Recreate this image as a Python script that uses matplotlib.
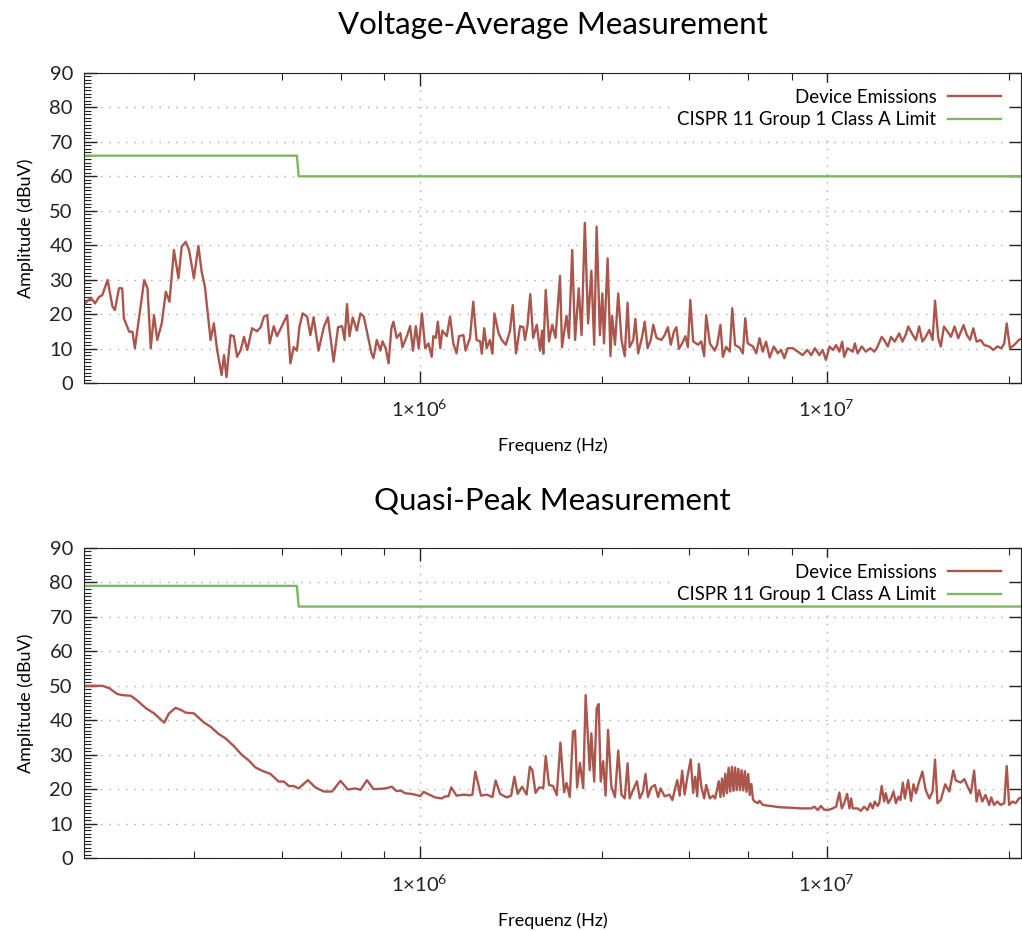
import numpy as np
import matplotlib
matplotlib.use('Agg')
import matplotlib.pyplot as plt
from matplotlib.ticker import FixedLocator, FixedFormatter, MultipleLocator, NullFormatter

plt.rcParams['font.family'] = ['Lato', 'DejaVu Sans']
plt.rcParams['mathtext.fontset'] = 'custom'
plt.rcParams['mathtext.rm'] = 'Lato'

# --- Voltage-Average sweep (log10 of frequency in Hz, level in dBuV) ---
va_freq_log10 = [
    5.176, 5.193, 5.203, 5.213, 5.221, 5.234, 5.246, 5.252, 5.262, 5.270,
    5.274, 5.287, 5.295, 5.301, 5.324, 5.332, 5.340, 5.348, 5.356, 5.367,
    5.377, 5.386, 5.397, 5.408, 5.416, 5.426, 5.434, 5.446, 5.457, 5.465,
    5.473, 5.487, 5.495, 5.503, 5.514, 5.520, 5.526, 5.536, 5.544, 5.552,
    5.561, 5.569, 5.577, 5.589, 5.601, 5.610, 5.618, 5.626, 5.632, 5.642,
    5.650, 5.662, 5.675, 5.683, 5.691, 5.699, 5.705, 5.713, 5.724, 5.732,
    5.740, 5.752, 5.765, 5.775, 5.789, 5.800, 5.810, 5.816, 5.822, 5.828,
    5.836, 5.846, 5.855, 5.863, 5.871, 5.882, 5.887, 5.895, 5.904, 5.909,
    5.917, 5.924, 5.931, 5.936, 5.944, 5.953, 5.958, 5.969, 5.977, 5.984,
    5.991, 5.998, 6.006, 6.014, 6.022, 6.030, 6.034, 6.040, 6.045, 6.051,
    6.056, 6.067, 6.075, 6.083, 6.091, 6.097, 6.108, 6.113, 6.124, 6.132,
    6.140, 6.149, 6.153, 6.159, 6.165, 6.173, 6.179, 6.184, 6.194, 6.202,
    6.212, 6.222, 6.229, 6.237, 6.247, 6.255, 6.259, 6.265, 6.272, 6.279,
    6.288, 6.296, 6.301, 6.304, 6.310, 6.318, 6.326, 6.334, 6.345, 6.350,
    6.361, 6.367, 6.375, 6.382, 6.391, 6.398, 6.406, 6.414, 6.422, 6.429,
    6.435, 6.443, 6.449, 6.453, 6.462, 6.469, 6.473, 6.480, 6.488, 6.496,
    6.504, 6.511, 6.516, 6.525, 6.530, 6.537, 6.547, 6.553, 6.560, 6.568,
    6.574, 6.582, 6.594, 6.602, 6.610, 6.617, 6.625, 6.631, 6.637, 6.645,
    6.653, 6.659, 6.665, 6.672, 6.684, 6.692, 6.699, 6.704, 6.713, 6.725,
    6.731, 6.739, 6.745, 6.753, 6.762, 6.768, 6.775, 6.786, 6.794, 6.800,
    6.806, 6.819, 6.827, 6.835, 6.843, 6.851, 6.860, 6.870, 6.880, 6.888,
    6.896, 6.904, 6.917, 6.929, 6.941, 6.952, 6.962, 6.971, 6.982, 6.990,
    6.998, 7.007, 7.015, 7.023, 7.031, 7.038, 7.043, 7.051, 7.064, 7.069,
    7.076, 7.086, 7.096, 7.107, 7.117, 7.125, 7.135, 7.141, 7.150, 7.158,
    7.167, 7.178, 7.186, 7.194, 7.200, 7.211, 7.219, 7.227, 7.235, 7.243,
    7.252, 7.260, 7.266, 7.274, 7.280, 7.288, 7.297, 7.305, 7.314, 7.323,
    7.336, 7.344, 7.352, 7.360, 7.368, 7.378, 7.387, 7.399, 7.409, 7.419,
    7.429, 7.436, 7.442, 7.450, 7.460, 7.472, 7.478,
]
va_level = [
    22.8, 24.8, 23.1, 25.0, 25.5, 29.9, 22.2, 21.2, 27.5, 27.5,
    18.8, 14.9, 14.9, 10.1, 29.9, 27.5, 10.1, 19.7, 12.5, 17.3,
    26.5, 23.6, 38.6, 30.4, 39.6, 41.0, 38.6, 30.4, 39.8, 32.3,
    28.0, 12.5, 17.3, 9.6, 2.3, 8.1, 1.7, 13.9, 13.6, 7.6,
    9.6, 13.4, 9.6, 15.9, 15.0, 16.2, 19.3, 19.7, 11.5, 16.5,
    13.6, 16.5, 19.7, 5.7, 10.4, 9.4, 16.2, 20.2, 19.3, 13.9,
    19.1, 9.4, 16.2, 19.1, 6.2, 16.2, 16.5, 12.5, 22.9, 13.6,
    19.0, 15.2, 20.2, 19.3, 14.9, 8.6, 7.2, 12.5, 9.4, 12.1,
    10.1, 5.7, 15.9, 17.8, 13.1, 14.5, 10.4, 13.6, 16.5, 9.4,
    16.5, 10.1, 20.2, 10.1, 11.5, 7.6, 13.6, 13.1, 17.8, 10.1,
    15.2, 13.6, 19.3, 11.5, 8.6, 13.6, 13.9, 9.4, 13.1, 23.6,
    12.5, 12.1, 8.5, 15.9, 10.1, 12.5, 8.5, 20.2, 14.5, 12.5,
    11.1, 15.0, 22.6, 8.6, 16.5, 16.2, 12.5, 16.5, 25.8, 13.1,
    16.9, 9.4, 15.2, 8.5, 27.0, 12.1, 16.9, 13.1, 31.1, 10.4,
    19.5, 13.1, 38.6, 12.5, 27.5, 13.9, 46.5, 17.3, 32.6, 11.1,
    45.4, 13.9, 26.0, 11.5, 36.2, 7.8, 19.5, 11.1, 26.0, 12.5,
    7.8, 23.3, 10.4, 12.5, 18.6, 8.6, 13.6, 17.8, 10.1, 12.5,
    16.9, 13.1, 12.5, 13.9, 16.2, 11.1, 15.0, 16.2, 9.9, 11.5,
    13.6, 10.4, 24.1, 12.1, 11.1, 12.1, 7.8, 19.7, 11.5, 9.4,
    11.1, 16.9, 7.6, 10.5, 9.1, 21.7, 11.0, 10.3, 8.6, 18.8,
    11.5, 10.6, 8.6, 13.0, 9.1, 12.0, 7.4, 10.6, 8.6, 9.6,
    7.2, 10.1, 10.1, 9.1, 8.1, 9.6, 8.1, 10.1, 8.1, 9.6,
    6.7, 10.6, 9.6, 11.0, 9.1, 12.0, 7.6, 10.1, 9.1, 11.5,
    8.6, 10.6, 9.1, 10.1, 9.1, 10.6, 13.4, 12.5, 10.6, 13.4,
    12.0, 14.4, 12.0, 14.0, 16.4, 14.0, 12.5, 16.4, 12.0, 13.4,
    15.4, 12.5, 23.9, 13.0, 10.6, 16.4, 14.9, 13.4, 16.4, 13.0,
    16.8, 14.0, 12.5, 15.9, 12.0, 12.5, 11.0, 10.6, 9.6, 10.6,
    10.1, 11.5, 17.3, 10.1, 11.0, 12.5, 12.8,
]

# --- Quasi-Peak sweep ---
qp_freq_log10 = [
    5.176, 5.221, 5.238, 5.258, 5.270, 5.291, 5.307, 5.328, 5.348, 5.373,
    5.385, 5.401, 5.414, 5.426, 5.446, 5.471, 5.487, 5.507, 5.524, 5.544,
    5.564, 5.581, 5.597, 5.614, 5.634, 5.654, 5.667, 5.679, 5.691, 5.703,
    5.726, 5.744, 5.765, 5.785, 5.806, 5.824, 5.842, 5.855, 5.871, 5.887,
    5.908, 5.920, 5.932, 5.944, 5.953, 5.965, 5.981, 6.002, 6.010, 6.022,
    6.038, 6.055, 6.063, 6.071, 6.078, 6.091, 6.108, 6.124, 6.130, 6.137,
    6.151, 6.165, 6.179, 6.187, 6.198, 6.214, 6.225, 6.233, 6.241, 6.252,
    6.263, 6.271, 6.277, 6.285, 6.294, 6.304, 6.310, 6.318, 6.328, 6.337,
    6.346, 6.355, 6.361, 6.369, 6.377, 6.382, 6.387, 6.394, 6.402, 6.408,
    6.418, 6.422, 6.429, 6.435, 6.440, 6.445, 6.451, 6.457, 6.463, 6.471,
    6.480, 6.488, 6.496, 6.504, 6.511, 6.516, 6.525, 6.534, 6.541, 6.549,
    6.555, 6.561, 6.569, 6.578, 6.586, 6.592, 6.602, 6.614, 6.621, 6.627,
    6.633, 6.639, 6.645, 6.651, 6.658, 6.666, 6.672, 6.677, 6.682, 6.686,
    6.692, 6.699, 6.704, 6.713, 6.721, 6.726, 6.735, 6.739, 6.743, 6.747,
    6.751, 6.755, 6.759, 6.763, 6.767, 6.771, 6.775, 6.779, 6.783, 6.787,
    6.791, 6.795, 6.799, 6.803, 6.807, 6.811, 6.815, 6.819, 6.823, 6.831,
    6.835, 6.843, 6.863, 6.888, 6.912, 6.937, 6.962, 6.970, 6.978, 6.986,
    6.993, 7.002, 7.015, 7.023, 7.031, 7.037, 7.043, 7.050, 7.056, 7.060,
    7.064, 7.076, 7.084, 7.092, 7.100, 7.107, 7.113, 7.118, 7.125, 7.129,
    7.135, 7.141, 7.145, 7.151, 7.158, 7.164, 7.170, 7.176, 7.181, 7.187,
    7.192, 7.200, 7.207, 7.213, 7.219, 7.225, 7.235, 7.243, 7.252, 7.260,
    7.266, 7.272, 7.280, 7.291, 7.301, 7.311, 7.317, 7.329, 7.338, 7.346,
    7.354, 7.362, 7.368, 7.374, 7.382, 7.390, 7.399, 7.404, 7.411, 7.419,
    7.427, 7.436, 7.442, 7.448, 7.456, 7.464, 7.472, 7.478,
]
qp_level = [
    50.0, 50.0, 49.3, 47.6, 47.3, 47.1, 45.7, 43.5, 42.0, 39.3,
    42.0, 43.6, 43.0, 42.2, 42.0, 39.3, 38.1, 36.0, 34.7, 32.5,
    29.9, 28.3, 26.3, 25.3, 24.4, 22.2, 22.2, 20.9, 20.9, 20.2,
    22.6, 20.5, 19.3, 19.3, 22.4, 19.9, 20.2, 19.8, 22.6, 20.0,
    20.1, 20.3, 20.7, 19.4, 19.6, 18.8, 18.6, 18.0, 19.2, 18.5,
    17.6, 17.3, 17.9, 17.9, 20.5, 18.1, 18.4, 18.2, 18.4, 25.1,
    18.1, 18.4, 17.7, 22.5, 18.6, 17.6, 18.1, 23.6, 18.6, 20.7,
    18.4, 26.5, 25.5, 18.9, 20.5, 20.3, 29.6, 21.2, 20.9, 18.3,
    33.5, 19.1, 21.8, 17.7, 36.7, 37.0, 20.5, 27.6, 20.3, 47.3,
    25.5, 36.2, 22.2, 43.5, 44.7, 22.2, 28.1, 18.1, 37.2, 20.8,
    17.7, 31.2, 18.4, 17.3, 27.5, 17.3, 19.9, 22.3, 17.3, 19.5,
    24.4, 17.7, 20.5, 21.2, 17.7, 20.2, 17.9, 18.4, 16.8, 19.9,
    22.6, 18.1, 25.3, 18.4, 23.6, 28.6, 18.9, 23.6, 17.9, 27.3,
    20.8, 17.3, 21.2, 17.3, 18.1, 17.3, 22.3, 17.7, 23.1, 18.0,
    24.5, 18.8, 26.2, 19.3, 26.5, 19.5, 26.3, 19.7, 25.9, 19.7,
    25.5, 19.6, 25.2, 19.2, 24.4, 18.3, 21.5, 17.0, 16.4, 15.9,
    16.6, 15.4, 15.1, 14.7, 14.6, 14.4, 14.4, 14.9, 13.9, 15.1,
    14.1, 13.9, 14.4, 14.9, 19.0, 14.4, 15.9, 18.6, 14.4, 17.3,
    14.4, 14.4, 13.7, 14.9, 13.9, 15.9, 14.4, 16.4, 15.1, 15.9,
    20.9, 16.4, 18.8, 15.9, 17.3, 19.3, 15.9, 17.8, 16.8, 21.9,
    17.3, 22.6, 16.6, 21.4, 18.8, 21.4, 25.1, 19.7, 17.3, 19.3,
    28.6, 15.9, 16.8, 21.4, 19.3, 25.4, 22.5, 21.9, 22.9, 20.7,
    18.8, 25.4, 16.4, 19.7, 16.4, 18.3, 15.4, 17.6, 15.4, 16.4,
    15.4, 15.9, 26.7, 15.4, 16.4, 15.9, 17.3, 17.5,
]

# CISPR 11 Group 1 Class A limits (Hz, dBuV)
limit_freq = [150e3, 500e3, 505e3, 30e6]
va_limit = [66, 66, 60, 60]
qp_limit = [79, 79, 73, 73]

minor_x = [280e3, 460e3, 640e3, 820e3, 2.8e6, 4.6e6, 6.4e6, 8.2e6, 28e6]

RED = '#ab564d'
GREEN = '#7db762'


def panel(ax, f_log, level, limit, title):
    ax.plot(10 ** np.array(f_log), level, color=RED, lw=1.7, label='Device Emissions', zorder=3)
    ax.plot(limit_freq, limit, color=GREEN, lw=1.7, label='CISPR 11 Group 1 Class A Limit', zorder=3)
    ax.set_xscale('log')
    ax.set_xlim(150e3, 30e6)
    ax.set_ylim(0, 90)
    ax.xaxis.set_major_locator(FixedLocator([1e6, 1e7]))
    ax.xaxis.set_major_formatter(FixedFormatter([r'$\mathregular{1{\times}10^{6}}$',
                                                 r'$\mathregular{1{\times}10^{7}}$']))
    ax.xaxis.set_minor_locator(FixedLocator(minor_x))
    ax.xaxis.set_minor_formatter(NullFormatter())
    ax.yaxis.set_major_locator(MultipleLocator(10))
    ax.yaxis.set_minor_locator(MultipleLocator(1))
    ax.tick_params(which='both', direction='in', top=True, right=True, colors='#222222')
    ax.tick_params(which='major', length=9, width=1, labelsize=14.5, pad=8)
    ax.tick_params(which='minor', length=5, width=0.8)
    ax.tick_params(axis='y', which='minor', right=False)
    ax.tick_params(axis='x', which='major', pad=11)
    ax.grid(which='major', linestyle=(0, (1, 5)), color='#aaaaaa', lw=1)
    for s in ax.spines.values():
        s.set_color('#222222')
        s.set_zorder(4)
    ax.set_title(title, fontsize=22.5, pad=28)
    ax.set_xlabel('Frequenz (Hz)', fontsize=13, labelpad=13)
    ax.set_ylabel('Amplitude (dBuV)', fontsize=13, labelpad=11)
    leg = ax.legend(loc='upper right', bbox_to_anchor=(0.995, 0.998), markerfirst=False,
                    fontsize=13.4, handlelength=2.85, handletextpad=0.65, labelspacing=0.32,
                    frameon=True, fancybox=False, borderpad=0.3)
    leg.get_frame().set_edgecolor('white')
    leg.get_frame().set_facecolor('white')
    leg.get_frame().set_alpha(1)
    leg.set_zorder(2)


fig = plt.figure(figsize=(10.22, 9.31), dpi=100)
ax1 = fig.add_axes([84 / 1022, 1 - 383 / 931, 937 / 1022, 310 / 931])
ax2 = fig.add_axes([84 / 1022, 1 - 858 / 931, 937 / 1022, 310 / 931])
panel(ax1, va_freq_log10, va_level, va_limit, 'Voltage-Average Measurement')
panel(ax2, qp_freq_log10, qp_level, qp_limit, 'Quasi-Peak Measurement')

fig.savefig('out.png', dpi=100)
